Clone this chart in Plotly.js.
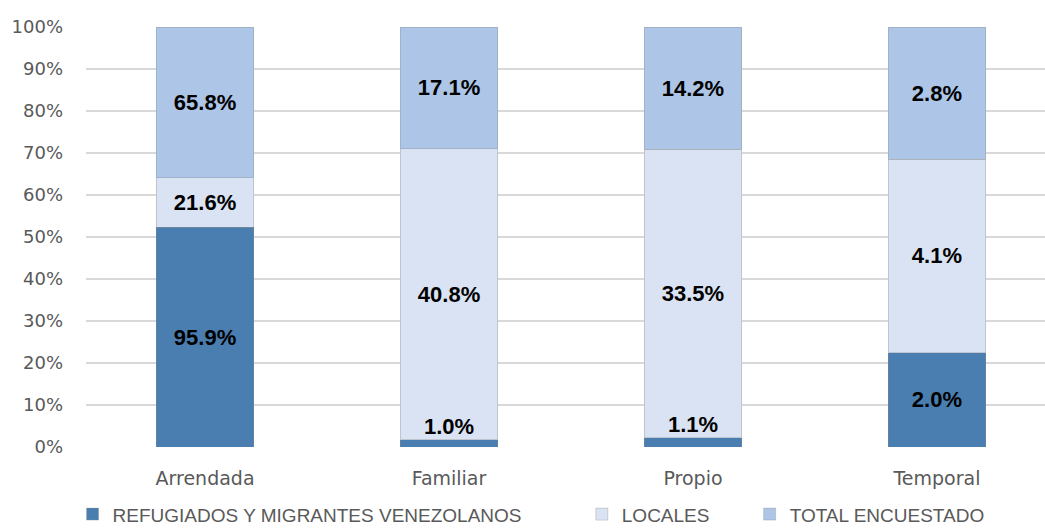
<!DOCTYPE html>
<html>
<head>
<meta charset="utf-8">
<script src="https://cdn.plot.ly/plotly-3.0.1.min.js"></script>
<style>html,body{margin:0;padding:0;background:#fff;}#chart{width:1045px;height:528px;}</style>
</head>
<body>
<div id="chart"></div>
<script>
const categories = ['Arrendada', 'Familiar', 'Propio', 'Temporal'];
const refugiados = [95.9, 1.0, 1.1, 2.0];
const locales = [21.6, 40.8, 33.5, 4.1];
const totalEncuestado = [65.8, 17.1, 14.2, 2.8];
const seriesNames = ['REFUGIADOS Y MIGRANTES VENEZOLANOS', 'LOCALES', 'TOTAL ENCUESTADO'];
const yTicks = [0, 10, 20, 30, 40, 50, 60, 70, 80, 90, 100];

const colors = ['#4A7EB0', '#DAE3F3', '#ADC5E7'];
const labelFont = {family: 'Liberation Sans, Arial, sans-serif', size: 22, color: '#000000', weight: 'bold'};

const allSeries = [refugiados, locales, totalEncuestado];
const totals = categories.map((c, i) => allSeries.reduce((s, arr) => s + arr[i], 0));
const annotations = [];

function mk(vals, idx) {
  // share of each segment within its bar (used only to decide where a label fits)
  const shares = vals.map((v, i) => v / totals[i] * 100);
  const text = vals.map((v, i) => shares[i] < 5 ? '' : '<b>' + v.toFixed(1) + '%</b>');
  vals.forEach((v, i) => {
    if (shares[i] < 5) {
      let base = 0;
      for (let k = 0; k < idx; k++) base += allSeries[k][i] / totals[i] * 100;
      annotations.push({
        x: categories[i], y: base + shares[i], xref: 'x', yref: 'y',
        text: '<b>' + v.toFixed(1) + '%</b>', showarrow: false,
        yanchor: 'bottom', yshift: -1, font: labelFont
      });
    }
  });
  return {
    type: 'bar', x: categories, y: vals, name: seriesNames[idx],
    legend: idx === 0 ? 'legend' : 'legend' + (idx + 1),
    marker: {color: colors[idx], line: {color: 'rgba(140,140,140,0.35)', width: 1}},
    text: text,
    textposition: 'inside', insidetextanchor: 'middle', constraintext: 'none', textangle: 0,
    textfont: labelFont, insidetextfont: labelFont,
    width: 0.4, hoverinfo: 'skip'
  };
}

const data = allSeries.map((vals, idx) => mk(vals, idx));

const legendFont = {family: 'Liberation Sans, Arial, sans-serif', size: 19, color: '#595959'};
function legendAt(xPaper) {
  return {orientation: 'h', x: xPaper, xanchor: 'left', y: 0.026, yanchor: 'middle',
          yref: 'container', font: legendFont, itemwidth: 30, bgcolor: 'rgba(0,0,0,0)'};
}

const layout = {
  width: 1045, height: 528,
  margin: {l: 86, r: 0, t: 27, b: 81},
  paper_bgcolor: '#ffffff', plot_bgcolor: '#ffffff',
  barmode: 'stack', barnorm: 'percent',
  font: {family: 'DejaVu Sans, sans-serif', size: 18, color: '#595959'},
  xaxis: {
    range: [-0.488, 3.443], showgrid: false, zeroline: false, showline: false,
    ticks: '', ticklabelstandoff: 18, automargin: false,
    tickfont: {family: 'DejaVu Sans, sans-serif', size: 19, color: '#595959'},
    fixedrange: true
  },
  yaxis: {
    range: [0, 100], tickvals: yTicks, ticktext: yTicks.map(v => v + '%'),
    showgrid: true, gridcolor: '#D9D9D9', gridwidth: 2, zeroline: false, showline: false,
    ticks: '', ticklabelstandoff: 22, automargin: false,
    tickfont: {family: 'DejaVu Sans, sans-serif', size: 18, color: '#595959'},
    fixedrange: true
  },
  annotations: annotations,
  showlegend: true,
  legend: legendAt(-0.014),
  legend2: legendAt(0.517),
  legend3: legendAt(0.692)
};

Plotly.newPlot('chart', data, layout, {staticPlot: true, displayModeBar: false});
</script>
</body>
</html>
